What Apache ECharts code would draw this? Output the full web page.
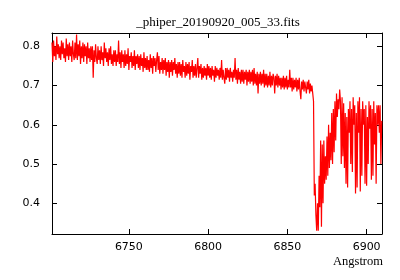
<!DOCTYPE html>
<html>
<head>
<meta charset="utf-8">
<script src="https://cdn.jsdelivr.net/npm/echarts@6/dist/echarts.min.js"></script>
<style>
html,body{margin:0;padding:0;background:#fff;}
#chart{width:400px;height:280px;}
</style>
</head>
<body>
<div id="chart"></div>
<script>
// spectrum sampling (like CRVAL1 / CDELT1 in the fits header)
var waveStart = 6701.5;
var waveStep = 0.5;

// flux, 0.5 A per value
var fluxCont = [
	0.81,0.76,0.815,0.775,0.80,0.765,0.825,0.78,0.805,0.77,
	0.80,0.765,0.815,0.78,0.81,0.77,0.795,0.76,0.82,0.775,
	0.805,0.765,0.81,0.775,0.80,0.76,0.815,0.78,0.765,0.81,
	0.77,0.83,0.765,0.805,0.775,0.815,0.755,0.80,0.77,0.81,
	0.76,0.805,0.775,0.80,0.755,0.81,0.77,0.795,0.76,0.80,
	0.765,0.80,0.72,0.79,0.76,0.805,0.77,0.755,0.80,0.765,
	0.79,0.755,0.80,0.765,0.785,0.75,0.81,0.77,0.795,0.76,
	0.785,0.75,0.795,0.765,0.80,0.755,0.78,0.75,0.79,0.76,
	0.79,0.75,0.78,0.76,0.815,0.755,0.785,0.745,0.79,0.76,
	0.78,0.745,0.79,0.75,0.78,0.755,0.795,0.74,0.775,0.76,
	0.785,0.745,0.775,0.75,0.79,0.74,0.775,0.755,0.78,0.745,
	0.775,0.74,0.78,0.75,0.77,0.735,0.785,0.745,0.77,0.74,
	0.775,0.74,0.765,0.735,0.78,0.745,0.77,0.73,0.775,0.75,
	0.77,0.735,0.765,0.785,0.74,0.775,0.73,0.76,0.74,0.77,
	0.73,0.765,0.74,0.77,0.725,0.76,0.735,0.765,0.72,0.76,
	0.735,0.765,0.725,0.76,0.74,0.77,0.73,0.755,0.72,0.76,
	0.73,0.76,0.725,0.755,0.72,0.765,0.735,0.75,0.72,0.76,
	0.725,0.755,0.73,0.76,0.715,0.75,0.735,0.765,0.72,0.75,
	0.725,0.755,0.72,0.745,0.77,0.72,0.75,0.73,0.755,0.715,
	0.745,0.72,0.75,0.725,0.745,0.715,0.755,0.725,0.75,0.72,
	0.745,0.715,0.75,0.725,0.74,0.71,0.75,0.72,0.745,0.725,
	0.74,0.715,0.745,0.72,0.765,0.715,0.74,0.72,0.705,0.745,
	0.715,0.745,0.72,0.74,0.71,0.745,0.72,0.735,0.71,0.74,
	0.72,0.77,0.715,0.74,0.705,0.745,0.715,0.735,0.705,0.74,
	0.71,0.74,0.705,0.735,0.715,0.74,0.70,0.735,0.71,0.74,
	0.705,0.735,0.71,0.74,0.70,0.745,0.705,0.73,0.70,0.735,
	0.68,0.73,0.705,0.735,0.70,0.73,0.705,0.74,0.695,0.73,
	0.70,0.73,0.695,0.725,0.70,0.735,0.695,0.725,0.70,0.73,
	0.72,0.68,0.725,0.70,0.73,0.695,0.725,0.70,0.72,0.69,
	0.72,0.695,0.725,0.69,0.72,0.695,0.725,0.69,0.715,0.695,
	0.74,0.695,0.72,0.685,0.72,0.69,0.715,0.695,0.72,0.685,
	0.715,0.69,0.72,0.685,0.665,0.71,0.69,0.715,0.685,0.71,
	0.715,0.68,0.71,0.69,0.715,0.68,0.705,0.685,0.70,0.68
];
// O2 B band, from 6866.5 A on
var fluxBand = [
	0.66,0.42,0.45,0.37,0.33,0.40,0.33,0.47,0.39,0.56,
	0.34,0.55,0.40,0.56,0.45,0.52,0.46,0.57,0.47,0.60,
	0.49,0.58,0.51,0.63,0.50,0.64,0.53,0.66,0.56,0.68,
	0.62,0.665,0.64,0.69,0.66,0.50,0.67,0.52,0.655,0.49,
	0.63,
	0.45,0.62,0.44,0.64,0.58,0.66,0.50,0.64,0.48,0.67,
	0.60,0.65,0.425,0.63,0.44,0.66,0.58,0.67,0.43,0.64,
	0.47,0.66,0.60,0.64,0.45,0.65,0.445,0.62,0.50,0.66,
	0.59,0.65,0.46,0.64,0.47,0.66,0.55,0.63,0.45,0.65,
	0.60,0.65,0.58,0.65,0.50,0.61
];

var xTicks = [6750, 6800, 6850, 6900];
var yTicks = [0.4, 0.5, 0.6, 0.7, 0.8];

var flux = fluxCont.concat(fluxBand);
var seriesData = [];
for (var i = 0; i < flux.length; i++) {
	seriesData.push([waveStart + i * waveStep, flux[i]]);
}

var xMin = 6701.5, xMax = 6909.7;
var yMin = 0.3217, yMax = 0.834;

function xAxisDef(pos, showLabel) {
	return {
		type: 'value',
		position: pos,
		min: xMin,
		max: xMax,
		splitLine: {show: false},
		axisLine: {show: true, onZero: false, lineStyle: {color: '#000', width: 1}},
		axisTick: {show: true, inside: true, length: 5, customValues: xTicks, lineStyle: {color: '#000'}},
		axisLabel: {
			show: showLabel,
			customValues: xTicks,
			margin: 8,
			color: '#000',
			fontFamily: 'DejaVu Sans',
			fontSize: 11,
			formatter: function(v) { return String(v); }
		}
	};
}
function yAxisDef(pos, showLabel) {
	return {
		type: 'value',
		position: pos,
		min: yMin,
		max: yMax,
		splitLine: {show: false},
		axisLine: {show: true, onZero: false, lineStyle: {color: '#000', width: 1}},
		axisTick: {show: true, inside: true, length: 5, customValues: yTicks, lineStyle: {color: '#000'}},
		axisLabel: {
			show: showLabel,
			customValues: yTicks,
			margin: 12,
			color: '#000',
			fontFamily: 'DejaVu Sans',
			fontSize: 11,
			formatter: function(v) { return v.toFixed(1); }
		}
	};
}

var chart = echarts.init(document.getElementById('chart'), null, {renderer: 'canvas'});
chart.setOption({
	animation: false,
	backgroundColor: '#fff',
	title: {
		text: '_phiper_20190920_005_33.fits',
		left: 213,
		textAlign: 'center',
		top: 11,
		textStyle: {
			fontFamily: 'Liberation Serif',
			fontWeight: 'normal',
			fontSize: 13,
			color: '#000'
		}
	},
	grid: {left: 52, right: 18, top: 33, bottom: 46},
	xAxis: [xAxisDef('bottom', true), xAxisDef('top', false)],
	yAxis: [yAxisDef('left', true), yAxisDef('right', false)],
	graphic: [{
		type: 'text',
		right: 17,
		top: 255,
		style: {
			text: 'Angstrom',
			font: '12.5px "Liberation Serif"',
			fill: '#000'
		}
	}],
	series: [{
		type: 'line',
		data: seriesData,
		showSymbol: false,
		symbol: 'none',
		lineStyle: {color: '#ff0000', width: 1.2},
		clip: true
	}]
});
</script>
</body>
</html>
